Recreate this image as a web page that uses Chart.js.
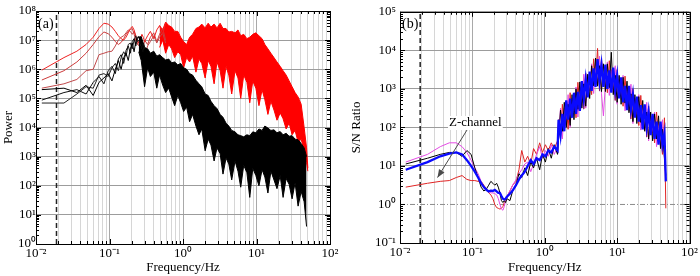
<!DOCTYPE html>
<html>
<head>
<meta charset="utf-8">
<script src="https://cdn.jsdelivr.net/npm/chart.js@4.4.1/dist/chart.umd.min.js"></script>
<style>
  html, body { margin: 0; padding: 0; background: #fff; }
  #wrap { position: relative; width: 700px; height: 276px; }
  #wrap canvas { position: absolute; top: 0; }
</style>
</head>
<body>
<div id="wrap">
  <canvas id="powerChart" width="350" height="276" style="left:0"></canvas>
  <canvas id="snrChart" width="356" height="276" style="left:344px"></canvas>
</div>
<script>
// ---- data (log10 of the plotted values) ----
const cutoffF = 0.019;

// low-frequency bins shared by both panels
const lowFreq = [0.012, 0.024, 0.036, 0.048, 0.060, 0.072, 0.084, 0.096, 0.108, 0.120,
    0.132, 0.144, 0.156, 0.168, 0.180, 0.192, 0.204, 0.216, 0.228, 0.240,
    0.252, 0.264, 0.276, 0.288, 0.300];
const midFreqA = [0.33, 0.36, 0.4, 0.44, 0.48, 0.53, 0.58];
const midFreqB = [0.33, 0.36, 0.4, 0.44, 0.48, 0.53, 0.58, 0.64, 0.7, 0.77, 0.85, 0.93,
    1.02, 1.12, 1.23, 1.35, 1.5];

// panel (a): power spectra
const sigLineA = [5.97, 6.4, 6.62, 6.85, 7.1, 7.4, 7.58, 7.55, 7.45, 7.3, 7.15, 7.05, 7.0, 7.1, 7.25,
    7.4, 7.47, 7.35, 7.15, 7.0, 6.9, 7.05, 7.2, 7.1, 6.95, 7.15, 7.3, 7.05, 7.35, 7.5, 7.2, 7.6];
const sigLineB = [5.63, 5.95, 6.25, 6.55, 6.85, 7.12, 7.28, 7.22, 7.1, 6.95, 6.85, 6.92, 7.05, 7.2, 7.3,
    7.36, 7.4, 7.2, 7.0, 6.85, 6.95, 7.1, 6.9, 6.75, 7.0, 6.85, 7.1, 7.25, 6.95, 7.2, 7.4, 7.0];
const sigLineC = [5.35, 5.5, 5.65, 5.95, 6.0, 6.5, 6.55, 6.6, 6.62, 6.8, 7.0, 7.1, 7.15, 7.25, 7.35,
    7.3, 7.2, 7.3, 7.1, 6.9, 6.8, 6.95, 6.6, 6.85, 6.45, 6.8, 6.95, 7.15, 6.9, 7.1, 7.25, 6.9];
const noiseLineA = [5.3, 5.35, 5.2, 5.45, 5.1, 5.55, 5.7, 5.85, 5.6, 6.0, 6.3, 6.0, 6.4, 6.55, 6.3,
    6.7, 6.9, 6.6, 6.95, 7.1, 7.12, 6.9, 6.8, 6.6, 6.7];
const noiseLineB = [4.94, 5.2, 5.3, 5.15, 5.55, 5.75, 5.5, 5.95, 6.1, 5.85, 6.35, 6.5, 6.2, 6.65, 6.8,
    6.55, 6.95, 7.05, 6.8, 7.05, 7.1, 6.95, 6.7, 6.9, 6.75];
const noiseLineC = [4.84, 4.84, 5.15, 5.4, 5.35, 5.8, 5.85, 5.75, 6.05, 6.2, 5.95, 6.4, 6.6, 6.45, 6.85,
    6.9, 6.7, 7.0, 7.15, 6.95, 7.0, 6.85, 6.75, 6.6, 6.8];

const noiseBandFreq = [0.25, 0.27, 0.3, 0.33, 0.36, 0.4, 0.44, 0.48, 0.53, 0.58, 0.64, 0.7, 0.77, 0.85,
    0.93, 1.02, 1.12, 1.23, 1.35, 1.5, 1.65, 1.8, 2.0, 2.2, 2.4, 2.65, 2.9, 3.2, 3.5, 3.85, 4.2, 4.6,
    5.1, 5.6, 6.1, 6.7, 7.4, 8.1, 8.9, 9.8, 10.8, 11.9, 13, 14.3, 15.7, 17.3, 19, 21, 23, 25.3, 27.8,
    30.5, 33.5, 36.8, 40.5, 44.5, 48];
const noiseBandTop = [7.1, 7.12, 6.75, 6.7, 6.55, 6.62, 6.45, 6.5, 6.4, 6.32, 6.35, 6.22, 6.25, 6.15,
    6.2, 6.05, 6.0, 5.85, 5.8, 5.62, 5.5, 5.4, 5.15, 5.1, 4.9, 4.75, 4.65, 4.45, 4.35, 4.15, 4.05, 3.9,
    3.85, 3.75, 3.72, 3.68, 3.75, 3.72, 3.85, 3.82, 3.95, 3.9, 4.05, 3.98, 3.9, 3.92, 3.82, 3.86, 3.75,
    3.8, 3.7, 3.72, 3.6, 3.58, 3.45, 3.3, 3.0];
const noiseBandBottom = [6.6, 6.3, 5.4, 6.05, 5.75, 5.9, 5.35, 5.8, 5.45, 5.2, 5.35, 5.05, 4.75, 5.1,
    4.85, 4.55, 4.7, 4.2, 4.45, 4.05, 3.75, 3.95, 3.2, 3.6, 3.4, 2.85, 3.3, 3.1, 2.4, 2.95, 2.75, 2.2,
    2.85, 2.5, 1.95, 2.7, 2.45, 1.6, 2.6, 2.35, 2.0, 2.55, 2.3, 1.75, 2.5, 2.2, 1.9, 2.35, 1.6, 2.25,
    2.05, 1.55, 2.1, 1.3, 1.8, 1.45, 0.6];

const sigBandFreq = [0.48, 0.53, 0.58, 0.64, 0.7, 0.77, 0.85, 0.93, 1.02, 1.12, 1.23, 1.35, 1.5, 1.65,
    1.8, 2.0, 2.2, 2.4, 2.65, 2.9, 3.2, 3.5, 3.85, 4.2, 4.6, 5.1, 5.6, 6.1, 6.7, 7.4, 8.1, 8.9, 9.8,
    10.8, 11.9, 13, 14.3, 15.7, 17.3, 19, 21, 23, 25.3, 27.8, 30.5, 33.5, 36.8, 40.5, 44.5, 48, 50];
const sigBandTop = [7.5, 7.35, 7.62, 7.5, 7.45, 7.3, 7.3, 7.1, 6.95, 6.85, 7.1, 7.2, 7.4, 7.45, 7.55,
    7.42, 7.58, 7.45, 7.55, 7.42, 7.58, 7.4, 7.4, 7.28, 7.3, 7.25, 7.35, 7.15, 7.2, 7.05, 7.1, 7.2,
    7.25, 7.15, 7.05, 6.85, 6.7, 6.55, 6.4, 6.25, 6.1, 5.95, 5.8, 5.6, 5.4, 5.2, 5.05, 4.8, 4.0, 3.3, 2.6];
const sigBandBottom = [6.75, 7.0, 6.55, 6.85, 6.7, 6.4, 6.6, 6.5, 6.05, 6.4, 6.25, 6.45, 5.9, 6.35, 6.2,
    5.7, 6.3, 6.1, 5.5, 6.25, 5.95, 5.35, 6.1, 5.8, 5.15, 5.95, 5.7, 5.0, 5.8, 5.55, 4.85, 5.6, 5.35,
    4.75, 5.3, 4.95, 4.45, 4.9, 4.6, 4.25, 4.5, 4.3, 3.95, 4.15, 3.75, 3.9, 3.5, 3.6, 3.2, 2.8, 2.5];

// panel (b): S/N ratio
const hiFreq = [1.55, 1.65, 1.75, 1.86, 1.98, 2.1, 2.24, 2.38, 2.53, 2.7, 2.87, 3.05, 3.25, 3.46, 3.68,
    3.92, 4.17, 4.44, 4.73, 5.03, 5.36, 5.7, 6.07, 6.46, 6.88, 7.32, 7.79, 8.3, 8.83, 9.4, 10.0, 10.65,
    11.34, 12.07, 12.85, 13.68, 14.56, 15.5, 16.5, 17.57, 18.7, 19.9, 21.2, 22.55, 24.0, 25.6, 27.2,
    29.0, 30.9, 32.9, 35.0, 37.3, 39.7, 42.2, 45.0, 47.0];

const snrBlueLow = [0.9, 1.1, 1.25, 1.32, 1.35, 1.3, 1.15, 1.0, 0.85, 0.7, 0.55, 0.45, 0.38, 0.34, 0.36,
    0.35, 0.38, 0.34, 0.3, 0.3, 0.22, 0.15, 0.13, 0.15, 0.2,
    0.28, 0.36, 0.5, 0.65, 0.75, 0.85, 1.0, 1.15, 1.05, 1.2, 1.15, 1.3, 1.25, 1.4, 1.35, 1.5, 1.4];
const snrBlueHigh = [2.2, 1.8, 2.35, 1.9, 2.7, 2.2, 2.75, 2.25, 2.9, 2.35, 2.92, 2.43, 3.2, 2.73, 3.25,
    2.78, 3.45, 2.95, 3.53, 3.05, 3.77, 3.2, 3.63, 3.05, 3.63, 3.0, 3.48, 2.9, 3.55, 2.95, 3.35, 2.75,
    3.3, 2.65, 3.08, 2.45, 3.08, 2.47, 2.85, 2.25, 2.8, 2.15, 2.58, 1.95, 2.6, 2.0, 2.4, 1.8, 2.35, 1.7,
    2.15, 1.55, 2.15, 1.55, 1.85, 0.6];
const snrBlackLow = [1.05, 1.2, 1.3, 1.35, 1.35, 1.25, 1.4, 1.3, 0.95, 0.7, 0.45, 0.35, 0.4, 0.5, 0.6,
    0.55, 0.5, 0.55, 0.45, 0.3, 0.1, 0.05, 0.1, 0.05, 0.15,
    0.1, 0.35, 0.5, 0.8, 0.7, 0.95, 0.75, 1.1, 0.95, 1.2, 0.9, 1.3, 1.1, 1.45, 1.2, 1.55, 1.3];
const snrBlackHigh = [1.7, 2.45, 1.9, 2.65, 2.0, 2.6, 2.05, 2.85, 2.2, 3.0, 2.47, 3.18, 2.5, 3.13, 2.55,
    3.38, 2.75, 3.6, 3.08, 3.8, 3.07, 3.6, 2.93, 3.65, 2.93, 3.65, 3.03, 3.95, 2.85, 3.35, 2.65, 3.35,
    2.6, 3.3, 2.63, 3.2, 2.38, 2.87, 2.15, 2.85, 2.1, 2.8, 2.13, 2.7, 1.9, 2.4, 1.7, 2.4, 1.65, 2.35,
    1.7, 2.3, 1.45, 1.95, 1.2, 0.75];
const snrMagentaLow = [1.1, 1.3, 1.5, 1.6, 1.6, 1.5, 1.35, 1.15, 0.95, 0.8, 0.6, 0.45, 0.38, 0.34, 0.3,
    0.3, 0.28, 0.25, 0.15, 0.0, -0.12, -0.15, -0.05, 0.1, 0.2,
    0.35, 0.5, 0.64, 0.8, 0.9, 1.05, 1.1, 0.85, 1.05, 1.3, 1.5, 1.2, 1.4, 1.25, 1.55, 1.3, 1.5];
const snrMagentaHigh = [1.8, 2.5, 1.7, 2.5, 2.05, 2.85, 2.0, 2.75, 2.4, 3.05, 2.27, 3.03, 2.55, 3.38, 2.5,
    3.28, 2.95, 3.65, 2.88, 3.65, 3.12, 3.85, 2.88, 2.3, 3.13, 3.7, 2.83, 3.5, 2.9, 3.6, 2.6, 3.25, 2.8,
    3.35, 2.43, 3.05, 2.43, 3.12, 2.1, 2.75, 2.3, 2.85, 1.93, 2.55, 1.95, 2.65, 1.65, 2.3, 1.85, 2.4,
    1.5, 2.15, 1.5, 2.2, 1.15, 0.65];
const snrRedLow = [0.45, 0.55, 0.6, 0.62, 0.7, 0.75, 0.65, 0.62, 0.62, 0.6, 0.6, 0.5, 0.4, 0.3, 0.25,
    0.15, 0.0, -0.08, -0.1, -0.12, -0.1, -0.05, 0.05, 0.1, 0.2,
    0.35, 0.5, 0.6, 0.9, 1.4, 1.1, 1.25, 1.05, 1.45, 1.3, 1.6, 1.35, 1.55, 1.4, 1.6, 1.45, 1.65];
const snrRedHigh = [2.2, 1.7, 2.6, 2.05, 2.65, 1.95, 2.9, 2.3, 2.8, 2.25, 3.17, 2.58, 3.15, 2.48, 3.4,
    2.83, 3.35, 2.85, 3.78, 3.2, 4.05, 2.95, 3.78, 3.1, 3.53, 2.9, 3.73, 3.05, 3.5, 2.7, 3.5, 2.8, 3.2,
    2.55, 3.33, 2.6, 3.03, 2.22, 3.0, 2.3, 2.7, 2.05, 2.83, 2.1, 2.55, 1.75, 2.55, 1.85, 2.25, 1.6,
    2.4, 1.7, 2.1, 1.3, 2.25, -0.1];

// annotation in panel (b), data units [Hz, S/N]
const zLabelAt = [0.11, 130];
const zArrowFrom = [0.086, 91];
const zArrowTo = [0.033, 5.0];

// ---- helpers ----
const serif = '"Liberation Serif", "Times New Roman", serif';
Chart.defaults.font.family = serif;
Chart.defaults.color = '#000';

const SUP = { '-': '\u207B', '0': '\u2070', '1': '\u00B9', '2': '\u00B2', '3': '\u00B3',
    '4': '\u2074', '5': '\u2075', '6': '\u2076', '7': '\u2077', '8': '\u2078', '9': '\u2079' };

function isDecade(v) {
    const l = Math.log10(v);
    return Math.abs(l - Math.round(l)) < 1e-6;
}

function powLabel(v) {
    const e = String(Math.round(Math.log10(v)));
    return '10' + e.split('').map(c => SUP[c]).join('');
}

function logSteps(e0, e1) {
    const out = [];
    for (let e = e0; e < e1; e++) {
        for (let k = 1; k < 10; k++) out.push(k * Math.pow(10, e));
    }
    out.push(Math.pow(10, e1));
    return out;
}

function decades(e0, e1) {
    const out = [];
    for (let e = e0; e <= e1; e++) out.push(Math.pow(10, e));
    return out;
}

function toPoints(freqs, logs) {
    return freqs.map((f, i) => ({ x: f, y: Math.pow(10, logs[i]) }));
}

function line(data, color, width, extra) {
    return Object.assign({
        data: data,
        borderColor: color,
        backgroundColor: color,
        borderWidth: width,
        pointRadius: 0,
        tension: 0,
        fill: false,
    }, extra || {});
}

// inward ticks on all four sides plus the box
const frameTicks = {
    id: 'frameTicks',
    afterDraw(chart, args, opts) {
        const { ctx, chartArea: a, scales: { x, y } } = chart;
        ctx.save();
        ctx.strokeStyle = '#000';
        ctx.lineWidth = 1;
        ctx.beginPath();
        logSteps(-2, 2).forEach(v => {
            const px = Math.round(x.getPixelForValue(v)) + 0.5;
            const len = isDecade(v) ? 5 : 3;
            ctx.moveTo(px, a.bottom); ctx.lineTo(px, a.bottom - len);
            ctx.moveTo(px, a.top); ctx.lineTo(px, a.top + len);
        });
        logSteps(opts.yExp[0], opts.yExp[1]).forEach(v => {
            const py = Math.round(y.getPixelForValue(v)) + 0.5;
            const len = isDecade(v) ? 5 : 3;
            ctx.moveTo(a.left, py); ctx.lineTo(a.left + len, py);
            ctx.moveTo(a.right, py); ctx.lineTo(a.right - len, py);
        });
        ctx.stroke();
        ctx.strokeRect(Math.round(a.left) + 0.5, Math.round(a.top) + 0.5,
            Math.round(a.right - a.left), Math.round(a.bottom - a.top));
        ctx.restore();
    }
};

// panel tag and the Z-channel note
const panelText = {
    id: 'panelText',
    afterDraw(chart, args, opts) {
        const { ctx, chartArea: a, scales: { x, y } } = chart;
        ctx.save();
        ctx.fillStyle = '#000';
        ctx.textBaseline = 'middle';
        ctx.font = '14px ' + serif;
        ctx.fillText(opts.tag, a.left + 2, a.top + 13);
        if (opts.note) {
            const x0 = x.getPixelForValue(zArrowFrom[0]), y0 = y.getPixelForValue(zArrowFrom[1]);
            const x1 = x.getPixelForValue(zArrowTo[0]), y1 = y.getPixelForValue(zArrowTo[1]);
            ctx.strokeStyle = '#4a4a4a';
            ctx.fillStyle = '#4a4a4a';
            ctx.lineWidth = 1;
            ctx.beginPath();
            ctx.moveTo(x0, y0);
            ctx.lineTo(x1, y1);
            ctx.stroke();
            const ang = Math.atan2(y1 - y0, x1 - x0);
            const L = 8, W = 3.2;
            ctx.beginPath();
            ctx.moveTo(x1, y1);
            ctx.lineTo(x1 - L * Math.cos(ang) + W * Math.sin(ang), y1 - L * Math.sin(ang) - W * Math.cos(ang));
            ctx.lineTo(x1 - L * Math.cos(ang) - W * Math.sin(ang), y1 - L * Math.sin(ang) + W * Math.cos(ang));
            ctx.closePath();
            ctx.fill();

            ctx.font = '13px ' + serif;
            ctx.textAlign = 'center';
            const tx = x.getPixelForValue(zLabelAt[0]), ty = y.getPixelForValue(zLabelAt[1]);
            const w = ctx.measureText(opts.note).width;
            ctx.fillStyle = '#fff';
            ctx.fillRect(tx - w / 2 - 1, ty - 7, w + 2, 14);
            ctx.fillStyle = '#000';
            ctx.fillText(opts.note, tx, ty);
        }
        ctx.restore();
    }
};

function logAxisX(height) {
    return {
        type: 'logarithmic',
        min: 0.01,
        max: 100,
        afterBuildTicks: s => { s.ticks = logSteps(-2, 2).map(v => ({ value: v })); },
        afterFit: s => { s.height = height; },
        ticks: {
            autoSkip: false, maxRotation: 0, padding: 2,
            font: { size: 13 }, color: '#000',
            callback: v => isDecade(v) ? powLabel(v) : '',
        },
        grid: {
            drawTicks: false,
            color: c => (c.tick && isDecade(c.tick.value)) ? '#a9a9a9' : '#d6d6d6',
        },
        border: { display: false },
        title: { display: true, text: 'Frequency/Hz', font: { size: 13 }, color: '#000', padding: { top: 0, bottom: 1 } },
    };
}

function logAxisY(e0, e1, width, label, tickPad, titlePad, hideUnity) {
    return {
        type: 'logarithmic',
        min: Math.pow(10, e0),
        max: Math.pow(10, e1),
        afterBuildTicks: s => { s.ticks = decades(e0, e1).map(v => ({ value: v })); },
        afterFit: s => { s.width = width; },
        ticks: { padding: tickPad, font: { size: 13 }, color: '#000', callback: v => powLabel(v) },
        grid: {
            drawTicks: false,
            color: c => (hideUnity && c.tick && Math.abs(c.tick.value - 1) < 1e-9) ? 'rgba(0,0,0,0)' : '#9c9c9c',
        },
        border: { display: false },
        title: { display: true, text: label, font: { size: 13 }, color: '#000', padding: { top: titlePad, bottom: 0 } },
    };
}

const baseOptions = {
    responsive: false,
    animation: false,
    events: [],
    plugins: { legend: { display: false }, tooltip: { enabled: false } },
};

// ---- panel (a) ----
new Chart(document.getElementById('powerChart'), {
    type: 'line',
    data: {
        datasets: [
            line(toPoints(lowFreq, noiseLineA), '#000', 1),
            line(toPoints(lowFreq, noiseLineB), '#111', 1),
            line(toPoints(lowFreq, noiseLineC), '#222', 1),
            line(toPoints(noiseBandFreq, noiseBandTop), '#000', 1, { fill: '+1' }),
            line(toPoints(noiseBandFreq, noiseBandBottom), '#000', 1),
            line(toPoints(lowFreq.concat(midFreqA), sigLineA), '#ee2222', 1),
            line(toPoints(lowFreq.concat(midFreqA), sigLineB), '#cc3a3a', 1),
            line(toPoints(lowFreq.concat(midFreqA), sigLineC), '#c0484a', 1),
            line(toPoints(sigBandFreq, sigBandTop), '#ff0000', 1, { fill: '+1' }),
            line(toPoints(sigBandFreq, sigBandBottom), '#ff0000', 1),
            line([{ x: cutoffF, y: 1 }, { x: cutoffF, y: 1e8 }], '#222', 1.5, { borderDash: [5, 3] }),
        ]
    },
    options: Object.assign({}, baseOptions, {
        layout: { padding: { top: 11, right: 20, bottom: 0, left: 0 } },
        scales: { x: logAxisX(32), y: logAxisY(0, 8, 36, 'Power', 0, 1, false) },
        plugins: Object.assign({}, baseOptions.plugins, {
            frameTicks: { yExp: [0, 8] },
            panelText: { tag: '(a)' },
        }),
    }),
    plugins: [frameTicks, panelText],
});

// ---- panel (b) ----
const snrFreq = lowFreq.concat(midFreqB, hiFreq);
new Chart(document.getElementById('snrChart'), {
    type: 'line',
    data: {
        datasets: [
            line(toPoints(snrFreq, snrBlueLow.concat(snrBlueHigh)), '#0a0aff', 2.3),
            line(toPoints(snrFreq, snrBlackLow.concat(snrBlackHigh)), '#000', 1),
            line(toPoints(snrFreq, snrMagentaLow.concat(snrMagentaHigh)), '#e44be4', 1),
            line(toPoints(snrFreq, snrRedLow.concat(snrRedHigh)), '#e02424', 1),
            line([{ x: 0.01, y: 1 }, { x: 100, y: 1 }], '#8c8c8c', 1, { borderDash: [5, 2, 1, 2] }),
            line([{ x: cutoffF, y: 0.1 }, { x: cutoffF, y: 1e5 }], '#222', 1.5, { borderDash: [5, 3] }),
        ]
    },
    options: Object.assign({}, baseOptions, {
        layout: { padding: { top: 10, right: 9, bottom: 0, left: 0 } },
        scales: { x: logAxisX(33), y: logAxisY(-1, 5, 56, 'S/N Ratio', 4, 5, true) },
        plugins: Object.assign({}, baseOptions.plugins, {
            frameTicks: { yExp: [-1, 5] },
            panelText: { tag: '(b)', note: 'Z-channel' },
        }),
    }),
    plugins: [frameTicks, panelText],
});
</script>
</body>
</html>
